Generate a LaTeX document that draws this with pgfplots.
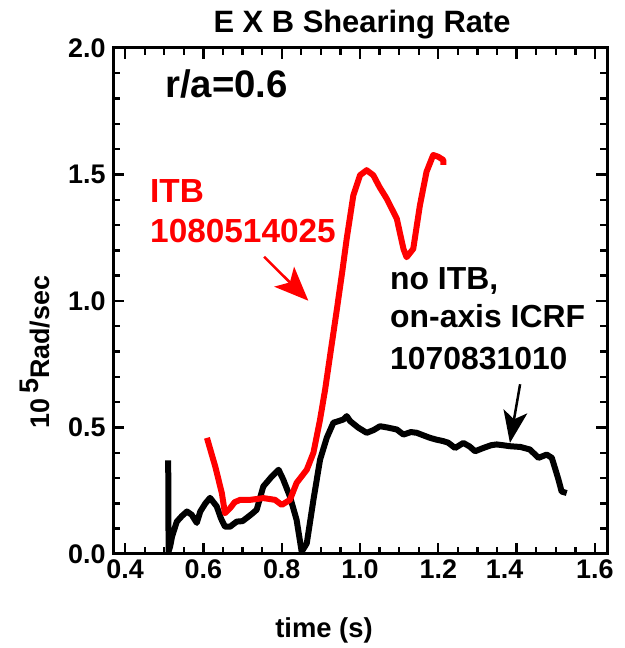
\documentclass[border=0pt]{standalone}
\usepackage{pgfplots}
\pgfplotsset{compat=1.18}
\usepackage{fontspec}
\setmainfont{Liberation Sans}
\usetikzlibrary{arrows.meta}
\definecolor{itbred}{RGB}{255,0,0}
\begin{document}
\begin{tikzpicture}[x=1bp,y=1bp]
\path[use as bounding box] (0,0) rectangle (625,648);
\begin{axis}[
  at={(113bp,94bp)}, anchor=south west,
  scale only axis, width=494bp, height=506bp,
  xmin=0.369, xmax=1.631, ymin=0, ymax=2.0,
  xtick={0.4,0.6,0.8,1.0,1.2,1.4,1.6},
  xticklabels={0.4,0.6,0.8,1.0,1.2,{1.4\hspace*{24bp}},1.6},
  ytick={0,0.5,1.0,1.5,2.0},
  yticklabels={0.0,0.5,1.0,1.5,2.0},
  minor x tick num=3, minor y tick num=4,
  tick align=inside, xtick pos=both, ytick pos=both,
  major tick length=11bp, minor tick length=7bp,
  every tick/.style={black, line width=2.4bp},
  axis line style={line width=3bp},
  ticklabel style={font=\fontsize{27}{30}\selectfont\bfseries},
  xticklabel style={yshift=-2bp},
  yticklabel style={xshift=-4bp},
  clip=false,
]
\addplot[black, line width=6bp, line join=round] coordinates {
(0.510,0.37) (0.511,0.01) (0.515,0.03) (0.520,0.07) (0.532,0.128) (0.545,0.15)
(0.558,0.168) (0.570,0.155) (0.583,0.123) (0.592,0.168) (0.605,0.20) (0.617,0.222)
(0.634,0.188) (0.645,0.14) (0.655,0.108) (0.668,0.108) (0.685,0.128) (0.700,0.13)
(0.711,0.143) (0.725,0.16) (0.736,0.175) (0.753,0.267) (0.775,0.307) (0.792,0.333)
(0.804,0.294) (0.821,0.227) (0.838,0.135) (0.851,0.009) (0.864,0.042) (0.881,0.214)
(0.898,0.373) (0.915,0.459) (0.932,0.519) (0.945,0.525) (0.958,0.532) (0.966,0.545)
(0.975,0.525) (0.995,0.50) (1.017,0.479) (1.035,0.49) (1.051,0.505) (1.070,0.50)
(1.094,0.492) (1.111,0.472) (1.130,0.482) (1.145,0.479) (1.160,0.47) (1.179,0.459)
(1.195,0.452) (1.213,0.446) (1.225,0.44) (1.243,0.419) (1.264,0.439) (1.280,0.425)
(1.294,0.406) (1.315,0.419) (1.335,0.43) (1.349,0.433) (1.365,0.43) (1.383,0.426)
(1.410,0.423) (1.434,0.413) (1.456,0.380) (1.477,0.393) (1.490,0.38) (1.500,0.33)
(1.507,0.294) (1.515,0.247) (1.528,0.241)
};
\addplot[itbred, line width=6bp, line join=round] coordinates {
(0.609,0.459) (0.620,0.40) (0.630,0.347) (0.647,0.241) (0.655,0.161) (0.668,0.181)
(0.680,0.205) (0.694,0.214) (0.719,0.214) (0.740,0.218) (0.753,0.221) (0.783,0.214)
(0.800,0.194) (0.821,0.214) (0.838,0.281) (0.864,0.333) (0.881,0.40) (0.898,0.532)
(0.911,0.651) (0.925,0.80) (0.941,0.968) (0.955,1.12) (0.966,1.246) (0.983,1.418)
(1.000,1.497) (1.017,1.517) (1.034,1.497) (1.050,1.45) (1.068,1.405) (1.094,1.325)
(1.111,1.206) (1.119,1.173) (1.136,1.206) (1.153,1.378) (1.170,1.511) (1.187,1.577)
(1.200,1.57) (1.213,1.557) (1.213,1.538)
};
\draw[itbred, line width=2.5bp, -{Stealth[length=34bp,width=28bp,inset=8bp]}] (axis cs:0.755,1.175) -- (axis cs:0.868,1.001);
\draw[black, line width=2.5bp, -{Stealth[length=32bp,width=24bp,inset=8bp]}] (axis cs:1.409,0.671) -- (axis cs:1.383,0.439);
\end{axis}
\node[anchor=base, inner sep=0] at (362,615) {\fontsize{31}{34}\selectfont\bfseries E X B Shearing Rate};
\node[anchor=base, inner sep=0] at (324,10) {\fontsize{27.5}{30}\selectfont\bfseries time (s)};
\node[anchor=base, rotate=90, inner sep=0] at (49,296) {\fontsize{27}{30}\selectfont\bfseries 10\,\raisebox{11bp}{5}Rad/sec};
\node[anchor=base west, inner sep=0] at (165,550) {\fontsize{38.5}{42}\selectfont\bfseries r/a=0.6};
\node[anchor=base west, inner sep=0, text=itbred] at (150,445) {\fontsize{33.5}{36}\selectfont\bfseries ITB};
\node[anchor=base west, inner sep=0, text=itbred] at (150,405) {\fontsize{33.5}{36}\selectfont\bfseries 1080514025};
\node[anchor=base west, inner sep=0] at (390,358) {\fontsize{32}{36}\selectfont\bfseries no ITB,};
\node[anchor=base west, inner sep=0] at (390,320) {\fontsize{32}{36}\selectfont\bfseries on-axis ICRF};
\node[anchor=base west, inner sep=0] at (390,278) {\fontsize{32}{36}\selectfont\bfseries 1070831010};
\end{tikzpicture}
\end{document}
